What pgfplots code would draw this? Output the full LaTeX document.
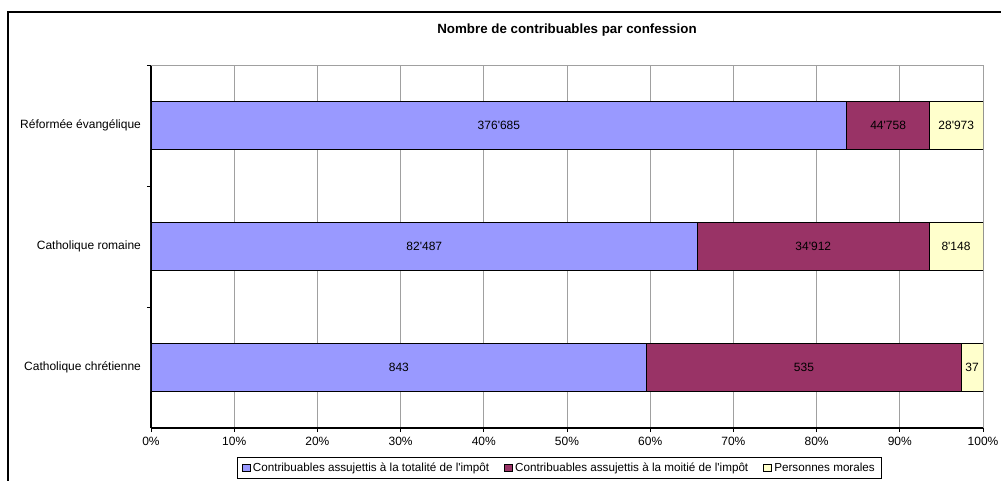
\documentclass[border=0pt]{standalone}
\usepackage{fontspec}
\setmainfont{Liberation Sans}[Ligatures=TeXOff]
\usepackage{pgfplots}
\pgfplotsset{compat=1.18}
\usepackage{pgfplotstable}

\definecolor{xlblue}{HTML}{9999FF}
\definecolor{xlplum}{HTML}{993366}
\definecolor{xlcream}{HTML}{FFFFCC}
\definecolor{gridgray}{HTML}{A0A0A0}

% share of each confession's total, in percent
\pgfplotstableread{
y   full    half    moral
0   59.576  37.809  2.615
1   65.702  27.808  6.490
2   83.631  9.937   6.432
}\shares

% middle of each segment, with the raw counts as labels
\pgfplotstableread{
x       y   lab
29.788  0   843
78.481  0   535
98.692  0   37
32.851  1   82'487
79.606  1   34'912
96.755  1   8'148
41.815  2   376'685
88.599  2   44'758
96.784  2   28'973
}\labels

\pgfplotsset{
  plotarea/.style={
    at={(113.25pt,-321pt)}, anchor=south west,
    scale only axis, width=624pt, height=272.25pt,
    xmin=0, xmax=100, ymin=-0.5, ymax=2.5,
  },
}

\begin{document}
\begin{tikzpicture}[font=\fontsize{9}{11}\selectfont]
\useasboundingbox (0,0) rectangle (750.75pt,-360.75pt);
\draw[line width=0.8pt] (6pt,-9pt) rectangle (900pt,-400pt);

\begin{axis}[plotarea,
  xbar stacked, bar width=0.4,
  axis lines*=left,
  axis line style={line width=0.9pt},
  tick align=outside,
  major tick length=3pt,
  minor tick length=3pt,
  xtick={0,10,20,30,40,50,60,70,80,90,100},
  xticklabels={0\%,10\%,20\%,30\%,40\%,50\%,60\%,70\%,80\%,90\%,100\%},
  ytick={0,1,2},
  yticklabels={Catholique chrétienne,Catholique romaine,Réformée évangélique},
  minor ytick={0.5,1.5,2.5},
  every major y tick/.append style={draw=none},
  every minor y tick/.append style={black, line width=0.6pt},
  every major x tick/.append style={black, line width=0.6pt},
  xmajorgrids, major grid style={gridgray, line width=0.6pt},
  yticklabel style={xshift=-1pt},
  title={\bfseries\fontsize{10}{12}\selectfont Nombre de contribuables par confession},
  title style={at={(0.5,1)}, anchor=base, yshift=18pt},
  legend columns=3,
  legend style={at={(0.491,0)}, anchor=north, yshift=-21.75pt,
    draw=black, line width=0.6pt, font=\fontsize{8.75}{10}\selectfont,
    /tikz/every even column/.append style={column sep=9pt}},
  legend image code/.code={\draw[#1, line width=0.5pt] (0pt,-2.8pt) rectangle (6pt,2.8pt);},
]
\addplot[fill=xlblue, draw=black, line width=0.5pt] table[x=full, y=y] {\shares};
\addplot[fill=xlplum, draw=black, line width=0.5pt] table[x=half, y=y] {\shares};
\addplot[fill=xlcream, draw=black, line width=0.5pt] table[x=moral, y=y] {\shares};
\legend{Contribuables assujettis à la totalité de l'impôt,
        Contribuables assujettis à la moitié de l'impôt,
        Personnes morales}
\draw[gridgray, line width=0.6pt] (rel axis cs:0,1) -- (rel axis cs:1,1);
\end{axis}

\begin{axis}[plotarea, hide axis]
\addplot[only marks, mark=none, nodes near coords, point meta=explicit symbolic,
  every node near coord/.append style={anchor=center, text=black}]
  table[x=x, y=y, meta=lab] {\labels};
\end{axis}
\end{tikzpicture}
\end{document}
